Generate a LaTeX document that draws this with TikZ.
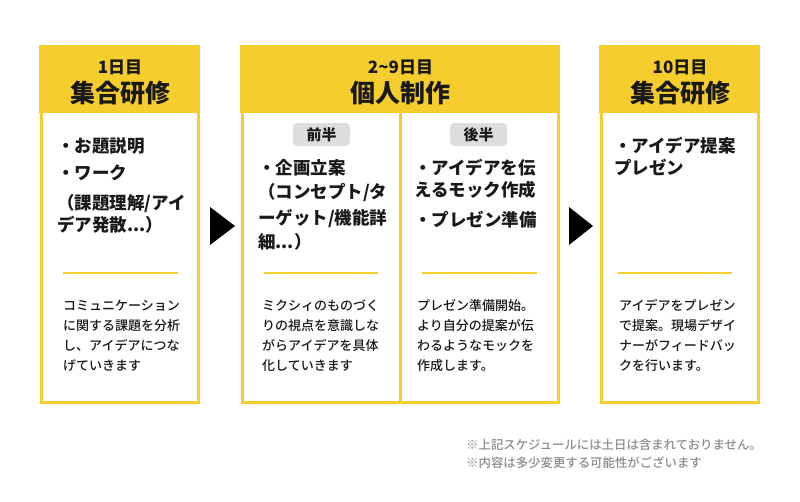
\documentclass[tikz,border=0pt]{standalone}
\usepackage{fontspec}
\setmainfont{Noto Sans CJK JP}
\newfontfamily\medfont{Noto Sans CJK JP}[UprightFont={* Medium}]
\usetikzlibrary{calc}
\definecolor{plyellow}{RGB}{245,205,45}
\definecolor{plgray}{RGB}{221,221,221}
\definecolor{plnote}{RGB}{140,140,140}
\definecolor{plink}{RGB}{25,25,25}

\begin{document}
\begin{tikzpicture}[x=1pt, y=-1pt,
    daybox/.style={draw=plyellow, line width=3pt, minimum height=355pt, inner sep=0pt},
    dayno/.style={font=\bfseries\fontsize{17}{20}\selectfont, text=plink, inner sep=0pt},
    daytitle/.style={font=\bfseries\fontsize{25}{28}\selectfont, text=plink, inner sep=0pt},
    items/.style={anchor=base west, inner sep=0pt, align=left, text=plink, font=\bfseries\fontsize{17.5}{22.5}\selectfont},
    desc/.style={anchor=base west, inner sep=0pt, align=left, text=plink, font=\medfont\fontsize{13}{20}\selectfont},
    halfpill/.style={fill=plgray, rounded corners=4pt, minimum width=57pt, minimum height=23pt, inner sep=0pt, font=\bfseries\fontsize{15}{18}\selectfont, text=plink},
    rule/.style={draw=plyellow, line width=1.5pt},
    note/.style={anchor=base west, inner sep=0pt, align=left, text=plnote, font=\medfont\fontsize{12.4}{18}\selectfont}
  ]
  \useasboundingbox (0,0) rectangle (800,501);

  % day boxes
  \node[daybox, minimum width=157pt] (day1) at (120,225) {};
  \node[daybox, minimum width=316pt] (day2) at (400.5,225) {};
  \node[daybox, minimum width=157pt] (day3) at (680,225) {};
  \foreach \d in {day1,day2,day3}
    \fill[plyellow] ($(\d.north west)+(-1.5,-1.5)$) rectangle (\d.east |- 0,113);
  \draw[plyellow, line width=3pt] (400,113) -- (400,402.5);

  % headers
  \node[dayno] (day1no) at (120,67) {1日目};
  \node[daytitle] (day1title) at (120,93) {集合研修};
  \node[dayno] (day2no) at (400.5,67) {2\textasciitilde9日目};
  \node[daytitle] (day2title) at (400.5,93) {個人制作};
  \node[dayno] (day3no) at (680,67) {10日目};
  \node[daytitle] (day3title) at (680,93) {集合研修};

  % day 1 (anchored at the last line)
  \node[items] (day1items) at (57,231.6) {・お題説明\\[4.5pt]・ワーク\\[7.5pt]（課題理解/アイ\\デア発散...）};
  \draw[rule] (63,273) -- (178,273);
  \node[desc] (day1desc) at (63,370) {コミュニケーション\\に関する課題を分析\\し、アイデアにつな\\げていきます};

  % days 2-9
  \node[halfpill] (firsthalf) at (321.5,134.5) {前半};
  \node[halfpill] (secondhalf) at (478.5,134.5) {後半};
  \node[items] (day2items) at (258,248.6) {・企画立案\\[1.5pt]（コンセプト/タ\\[3.5pt]ーゲット/機能詳\\[1.5pt]細...）};
  \node[items] (day9items) at (414,226.6) {・アイデアを伝\\えるモック作成\\[7.5pt]・プレゼン準備};
  \draw[rule] (264,273) -- (378,273);
  \draw[rule] (422,273) -- (537,273);
  \node[desc] (day2desc) at (262,370) {ミクシィのものづく\\りの視点を意識しな\\がらアイデアを具体\\化していきます};
  \node[desc] (day9desc) at (417,370) {プレゼン準備開始。\\より自分の提案が伝\\わるようなモックを\\作成します。};

  % day 10
  \node[items] (day3items) at (614,174.6) {・アイデア提案\\プレゼン};
  \draw[rule] (618,273) -- (732,273);
  \node[desc] (day3desc) at (619,370) {アイデアをプレゼン\\で提案。現場デザイ\\ナーがフィードバッ\\クを行います。};

  % arrows
  \fill[black] (210,207) -- (235,226) -- (210,245) -- cycle;
  \fill[black] (569,207) -- (593,226) -- (569,245) -- cycle;

  % notes
  \node[note] (notes) at (466,467.6) {※上記スケジュールには土日は含まれておりません。\\※内容は多少変更する可能性がございます};
\end{tikzpicture}
\end{document}
